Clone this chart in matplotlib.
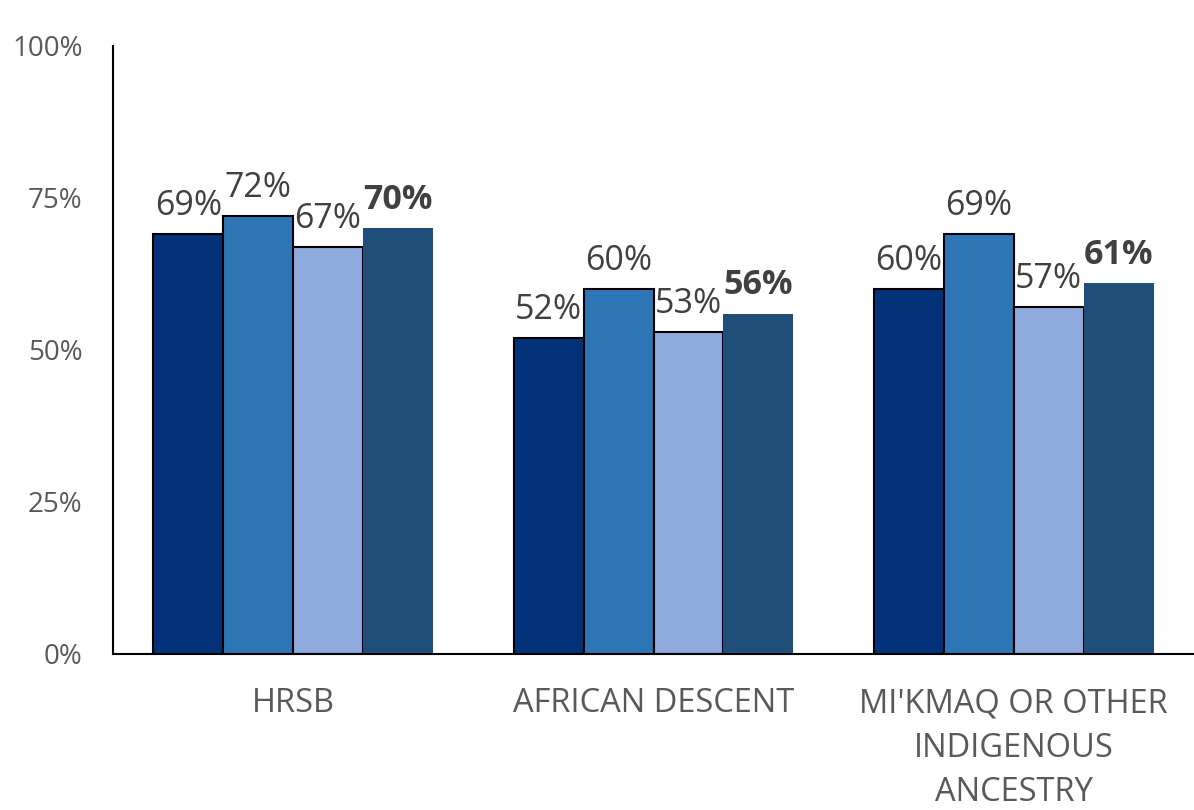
import matplotlib
matplotlib.use("Agg")
import matplotlib.pyplot as plt
import numpy as np

categories = ["HRSB", "AFRICAN DESCENT", "MI'KMAQ OR OTHER\nINDIGENOUS\nANCESTRY"]
series1 = [69, 52, 60]
series2 = [72, 60, 69]
series3 = [67, 53, 57]
series4 = [70, 56, 61]
yticks = [0, 25, 50, 75, 100]
ytick_labels = ["0%", "25%", "50%", "75%", "100%"]

colors = ["#03317A", "#2E75B6", "#8FAADC", "#1F4E79"]
edges = ["black", "black", "black", "none"]
bold = [False, False, False, True]

plt.rcParams['font.family'] = ['Open Sans', 'DejaVu Sans']
fig = plt.figure(figsize=(11.94, 8.10), dpi=100)
ax = fig.add_axes([113/1194, 156/810, 1 - 113/1194, (654-46)/810])

x = np.arange(len(categories))
w = 0.194
all_series = [series1, series2, series3, series4]
for i, s in enumerate(all_series):
    pos = x + (i - 1.5) * w
    ax.bar(pos, s, width=w, color=colors[i],
           edgecolor=edges[i], linewidth=1.5 if edges[i] != "none" else 0, zorder=2)
    for px, v in zip(pos, s):
        ax.annotate(f"{v}%", (px, v), xytext=(0, 8), textcoords="offset points",
                    ha="center", va="bottom", fontsize=24.5, color="#404040",
                    fontweight="bold" if bold[i] else "normal")

ax.set_xlim(-0.5, 2.5)
ax.set_ylim(0, 100)
ax.set_yticks(yticks)
ax.set_yticklabels(ytick_labels, fontsize=20, color="#595959")
ax.set_xticks(x)
ax.set_xticklabels(categories, fontsize=23.5, color="#595959", linespacing=1.45)
ax.tick_params(axis="both", length=0)
ax.tick_params(axis="y", pad=22)
ax.tick_params(axis="x", pad=24)
for sp in ["top", "right"]:
    ax.spines[sp].set_visible(False)
for sp in ["left", "bottom"]:
    ax.spines[sp].set_color("black")
    ax.spines[sp].set_linewidth(1.5)

fig.savefig("out.png", dpi=100)
